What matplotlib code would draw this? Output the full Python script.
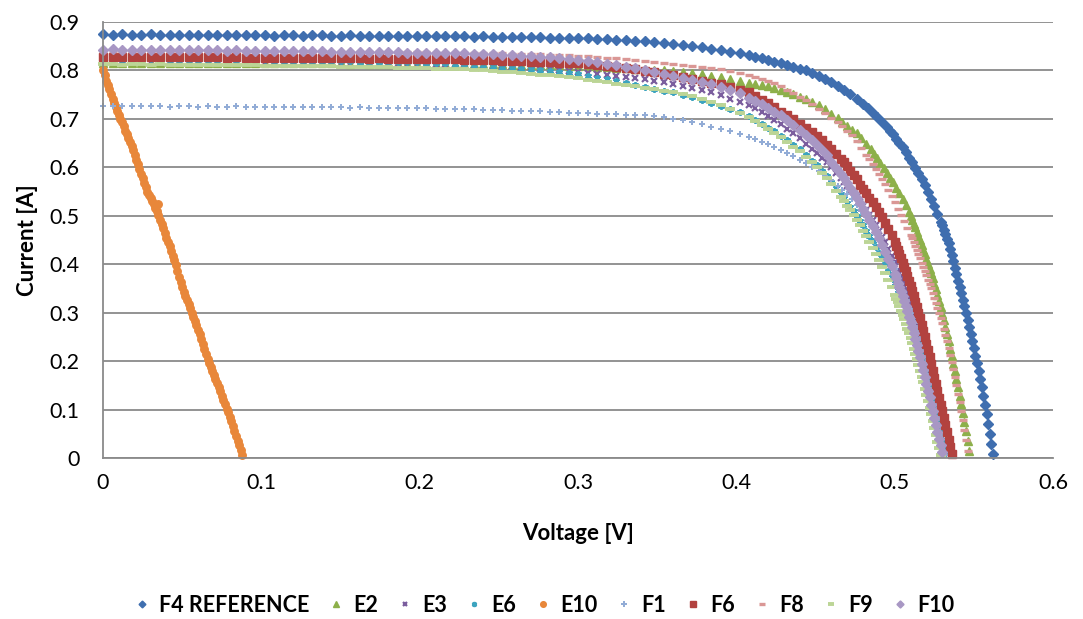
import matplotlib
matplotlib.use("Agg")
import matplotlib.pyplot as plt

plt.rcParams['font.family'] = ['Lato', 'DejaVu Sans']

# common voltage steps for the flat part of every I-V sweep (V)
V_GRID = [0.000, 0.006, 0.012, 0.018, 0.024, 0.030, 0.036, 0.042, 0.048, 0.054,
          0.060, 0.066, 0.072, 0.078, 0.084, 0.090, 0.096, 0.102, 0.108, 0.114,
          0.120, 0.126, 0.132, 0.138, 0.144, 0.150, 0.156, 0.162, 0.168, 0.174,
          0.180, 0.186, 0.192, 0.198, 0.204, 0.210, 0.216, 0.222, 0.228, 0.234,
          0.240, 0.246, 0.252, 0.258, 0.264, 0.270, 0.276, 0.282, 0.288, 0.294,
          0.300, 0.306, 0.312, 0.318, 0.324, 0.330, 0.336, 0.342, 0.348, 0.354,
          0.360, 0.366, 0.372, 0.378, 0.384, 0.390, 0.396, 0.402]

# currents (A) on V_GRID
F4_FLAT = [0.875, 0.874, 0.875, 0.874, 0.874, 0.875, 0.874, 0.874, 0.873, 0.874,
           0.874, 0.873, 0.874, 0.873, 0.873, 0.874, 0.873, 0.873, 0.872, 0.873,
           0.873, 0.872, 0.873, 0.873, 0.872, 0.872, 0.873, 0.872, 0.872, 0.872,
           0.872, 0.871, 0.872, 0.872, 0.871, 0.872, 0.871, 0.871, 0.871, 0.870,
           0.871, 0.870, 0.870, 0.870, 0.869, 0.869, 0.869, 0.868, 0.868, 0.867,
           0.867, 0.866, 0.865, 0.864, 0.863, 0.862, 0.861, 0.860, 0.858, 0.857,
           0.855, 0.853, 0.851, 0.848, 0.845, 0.842, 0.839, 0.835]
E2_FLAT = [0.816, 0.816, 0.815, 0.816, 0.816, 0.815, 0.816, 0.816, 0.815, 0.816,
           0.816, 0.815, 0.816, 0.815, 0.815, 0.816, 0.815, 0.815, 0.815, 0.815,
           0.815, 0.815, 0.815, 0.815, 0.815, 0.815, 0.814, 0.815, 0.814, 0.814,
           0.814, 0.814, 0.814, 0.814, 0.814, 0.814, 0.814, 0.813, 0.813, 0.813,
           0.813, 0.813, 0.813, 0.812, 0.812, 0.812, 0.811, 0.811, 0.811, 0.810,
           0.810, 0.809, 0.808, 0.807, 0.806, 0.805, 0.804, 0.803, 0.801, 0.800,
           0.798, 0.796, 0.794, 0.792, 0.789, 0.786, 0.782, 0.778]
E3_FLAT = [0.818, 0.818, 0.817, 0.818, 0.817, 0.817, 0.818, 0.817, 0.817, 0.816,
           0.817, 0.816, 0.816, 0.816, 0.816, 0.815, 0.816, 0.815, 0.815, 0.815,
           0.815, 0.814, 0.815, 0.814, 0.814, 0.814, 0.813, 0.814, 0.813, 0.813,
           0.813, 0.813, 0.812, 0.812, 0.812, 0.812, 0.811, 0.811, 0.811, 0.810,
           0.810, 0.809, 0.809, 0.808, 0.807, 0.805, 0.804, 0.803, 0.801, 0.799,
           0.797, 0.795, 0.793, 0.791, 0.789, 0.787, 0.785, 0.782, 0.779, 0.776,
           0.772, 0.768, 0.764, 0.760, 0.755, 0.749, 0.742, 0.735]
E6_FLAT = [0.823, 0.823, 0.822, 0.823, 0.822, 0.823, 0.822, 0.822, 0.822, 0.822,
           0.822, 0.822, 0.821, 0.822, 0.821, 0.821, 0.821, 0.821, 0.820, 0.820,
           0.820, 0.820, 0.820, 0.819, 0.819, 0.819, 0.819, 0.818, 0.818, 0.818,
           0.818, 0.818, 0.817, 0.817, 0.816, 0.816, 0.815, 0.814, 0.813, 0.812,
           0.811, 0.810, 0.808, 0.806, 0.804, 0.802, 0.800, 0.798, 0.796, 0.794,
           0.792, 0.789, 0.785, 0.782, 0.778, 0.774, 0.770, 0.766, 0.762, 0.758,
           0.755, 0.750, 0.745, 0.739, 0.733, 0.727, 0.720, 0.714]
F1_FLAT = [0.727, 0.726, 0.727, 0.726, 0.726, 0.727, 0.726, 0.725, 0.726, 0.726,
           0.725, 0.726, 0.725, 0.725, 0.726, 0.725, 0.725, 0.724, 0.725, 0.725,
           0.725, 0.724, 0.725, 0.724, 0.724, 0.724, 0.723, 0.724, 0.723, 0.723,
           0.723, 0.723, 0.722, 0.722, 0.722, 0.721, 0.721, 0.720, 0.720, 0.720,
           0.719, 0.719, 0.718, 0.717, 0.717, 0.716, 0.716, 0.715, 0.714, 0.713,
           0.713, 0.712, 0.711, 0.711, 0.710, 0.709, 0.708, 0.707, 0.705, 0.703,
           0.700, 0.697, 0.693, 0.689, 0.684, 0.680, 0.675, 0.669]
F6_FLAT = [0.828, 0.828, 0.827, 0.828, 0.828, 0.827, 0.828, 0.827, 0.827, 0.828,
           0.827, 0.827, 0.827, 0.826, 0.827, 0.826, 0.826, 0.826, 0.826, 0.826,
           0.826, 0.825, 0.826, 0.825, 0.825, 0.825, 0.825, 0.825, 0.824, 0.825,
           0.824, 0.824, 0.824, 0.824, 0.824, 0.823, 0.823, 0.823, 0.822, 0.822,
           0.821, 0.821, 0.820, 0.820, 0.819, 0.818, 0.818, 0.817, 0.816, 0.815,
           0.815, 0.813, 0.811, 0.809, 0.807, 0.805, 0.802, 0.799, 0.796, 0.793,
           0.790, 0.787, 0.783, 0.779, 0.775, 0.771, 0.766, 0.760]
F8_FLAT = [0.840, 0.841, 0.840, 0.840, 0.841, 0.840, 0.840, 0.840, 0.841, 0.840,
           0.840, 0.840, 0.840, 0.839, 0.840, 0.839, 0.840, 0.839, 0.839, 0.839,
           0.839, 0.839, 0.839, 0.839, 0.839, 0.838, 0.839, 0.838, 0.838, 0.838,
           0.838, 0.838, 0.838, 0.838, 0.838, 0.837, 0.837, 0.837, 0.836, 0.836,
           0.836, 0.835, 0.835, 0.834, 0.834, 0.833, 0.833, 0.832, 0.831, 0.831,
           0.830, 0.829, 0.828, 0.826, 0.825, 0.823, 0.821, 0.819, 0.818, 0.816,
           0.814, 0.812, 0.810, 0.808, 0.805, 0.802, 0.799, 0.795]
F9_FLAT = [0.813, 0.813, 0.812, 0.813, 0.813, 0.812, 0.813, 0.812, 0.812, 0.812,
           0.812, 0.812, 0.812, 0.811, 0.811, 0.811, 0.811, 0.810, 0.810, 0.810,
           0.810, 0.810, 0.809, 0.809, 0.809, 0.808, 0.808, 0.808, 0.807, 0.807,
           0.807, 0.806, 0.806, 0.806, 0.805, 0.804, 0.804, 0.803, 0.802, 0.801,
           0.800, 0.799, 0.797, 0.796, 0.794, 0.793, 0.791, 0.790, 0.788, 0.786,
           0.784, 0.781, 0.779, 0.776, 0.773, 0.770, 0.767, 0.764, 0.761, 0.758,
           0.755, 0.751, 0.747, 0.741, 0.735, 0.728, 0.721, 0.713]
F10_FLAT = [0.843, 0.844, 0.843, 0.843, 0.842, 0.843, 0.843, 0.842, 0.842, 0.843,
            0.842, 0.842, 0.842, 0.841, 0.842, 0.841, 0.841, 0.841, 0.841, 0.840,
            0.840, 0.840, 0.840, 0.840, 0.839, 0.839, 0.839, 0.839, 0.838, 0.838,
            0.838, 0.838, 0.837, 0.837, 0.837, 0.836, 0.836, 0.835, 0.835, 0.834,
            0.834, 0.833, 0.832, 0.831, 0.830, 0.829, 0.828, 0.827, 0.825, 0.824,
            0.822, 0.820, 0.817, 0.814, 0.811, 0.808, 0.805, 0.801, 0.797, 0.793,
            0.789, 0.785, 0.781, 0.777, 0.772, 0.766, 0.760, 0.753]

# knee and drop to open circuit, (V, A) pairs
F4_TAIL = [(0.408, 0.831), (0.412, 0.828), (0.416, 0.825), (0.420, 0.821), (0.424, 0.818),
           (0.428, 0.815), (0.432, 0.811), (0.436, 0.808), (0.440, 0.804), (0.444, 0.800),
           (0.448, 0.795), (0.452, 0.789), (0.456, 0.783), (0.460, 0.776), (0.464, 0.768),
           (0.468, 0.760), (0.472, 0.751), (0.476, 0.742), (0.480, 0.731), (0.483, 0.722),
           (0.486, 0.713), (0.489, 0.703), (0.492, 0.694), (0.495, 0.684), (0.497, 0.676),
           (0.499, 0.668), (0.501, 0.659), (0.503, 0.650), (0.505, 0.641), (0.507, 0.631),
           (0.509, 0.620), (0.511, 0.610), (0.513, 0.599), (0.515, 0.588), (0.517, 0.576),
           (0.519, 0.564), (0.521, 0.550), (0.523, 0.535), (0.525, 0.520), (0.527, 0.504),
           (0.529, 0.488), (0.530, 0.480), (0.531, 0.471), (0.532, 0.462), (0.533, 0.453),
           (0.534, 0.443), (0.535, 0.432), (0.536, 0.420), (0.537, 0.407), (0.538, 0.393),
           (0.539, 0.380), (0.540, 0.366), (0.541, 0.353), (0.542, 0.340), (0.543, 0.326),
           (0.544, 0.313), (0.545, 0.299), (0.546, 0.285), (0.547, 0.270), (0.548, 0.256),
           (0.549, 0.241), (0.550, 0.227), (0.551, 0.211), (0.552, 0.196), (0.553, 0.180),
           (0.554, 0.163), (0.555, 0.146), (0.556, 0.128), (0.557, 0.109), (0.558, 0.090),
           (0.559, 0.070), (0.560, 0.050), (0.561, 0.029), (0.562, 0.008)]
E2_TAIL = [(0.408, 0.775), (0.412, 0.773), (0.416, 0.770), (0.420, 0.767), (0.424, 0.764),
           (0.428, 0.760), (0.432, 0.756), (0.436, 0.751), (0.440, 0.746), (0.444, 0.741),
           (0.448, 0.735), (0.452, 0.728), (0.456, 0.720), (0.460, 0.711), (0.464, 0.701),
           (0.467, 0.694), (0.470, 0.686), (0.473, 0.678), (0.476, 0.670), (0.479, 0.660),
           (0.482, 0.649), (0.485, 0.637), (0.487, 0.628), (0.489, 0.619), (0.491, 0.609),
           (0.493, 0.599), (0.495, 0.589), (0.497, 0.579), (0.499, 0.569), (0.501, 0.558),
           (0.503, 0.547), (0.505, 0.535), (0.507, 0.522), (0.509, 0.508), (0.510, 0.500),
           (0.511, 0.492), (0.512, 0.484), (0.513, 0.476), (0.514, 0.467), (0.515, 0.458),
           (0.516, 0.449), (0.517, 0.440), (0.518, 0.430), (0.519, 0.421), (0.520, 0.411),
           (0.521, 0.401), (0.522, 0.391), (0.523, 0.381), (0.524, 0.371), (0.525, 0.360),
           (0.526, 0.349), (0.527, 0.337), (0.528, 0.325), (0.529, 0.312), (0.530, 0.298),
           (0.531, 0.284), (0.532, 0.270), (0.533, 0.255), (0.534, 0.241), (0.535, 0.226),
           (0.536, 0.211), (0.537, 0.195), (0.538, 0.179), (0.539, 0.163), (0.540, 0.146),
           (0.541, 0.129), (0.542, 0.111), (0.543, 0.093), (0.544, 0.074), (0.545, 0.055),
           (0.546, 0.035), (0.547, 0.014)]
E3_TAIL = [(0.408, 0.729), (0.412, 0.722), (0.416, 0.714), (0.420, 0.706), (0.424, 0.698),
           (0.428, 0.689), (0.432, 0.680), (0.436, 0.670), (0.440, 0.660), (0.444, 0.649),
           (0.448, 0.638), (0.451, 0.629), (0.454, 0.620), (0.457, 0.610), (0.460, 0.600),
           (0.463, 0.589), (0.466, 0.578), (0.468, 0.570), (0.470, 0.562), (0.472, 0.554),
           (0.474, 0.546), (0.476, 0.538), (0.478, 0.529), (0.480, 0.520), (0.482, 0.511),
           (0.484, 0.501), (0.486, 0.491), (0.488, 0.480), (0.490, 0.469), (0.492, 0.457),
           (0.494, 0.445), (0.496, 0.432), (0.498, 0.418), (0.500, 0.404), (0.502, 0.389),
           (0.503, 0.381), (0.504, 0.373), (0.505, 0.365), (0.506, 0.356), (0.507, 0.347),
           (0.508, 0.338), (0.509, 0.328), (0.510, 0.318), (0.511, 0.308), (0.512, 0.298),
           (0.513, 0.287), (0.514, 0.276), (0.515, 0.265), (0.516, 0.253), (0.517, 0.241),
           (0.518, 0.229), (0.519, 0.216), (0.520, 0.203), (0.521, 0.190), (0.522, 0.177),
           (0.523, 0.163), (0.524, 0.150), (0.525, 0.136), (0.526, 0.122), (0.527, 0.108),
           (0.528, 0.094), (0.529, 0.080), (0.530, 0.066), (0.531, 0.052), (0.532, 0.038),
           (0.533, 0.024), (0.534, 0.010)]
E6_TAIL = [(0.408, 0.705), (0.412, 0.698), (0.416, 0.690), (0.420, 0.682), (0.424, 0.674),
           (0.428, 0.665), (0.432, 0.656), (0.436, 0.647), (0.440, 0.637), (0.444, 0.626),
           (0.448, 0.614), (0.451, 0.604), (0.454, 0.593), (0.457, 0.582), (0.460, 0.570),
           (0.463, 0.558), (0.466, 0.545), (0.468, 0.536), (0.470, 0.527), (0.472, 0.518),
           (0.474, 0.509), (0.476, 0.500), (0.478, 0.490), (0.480, 0.480), (0.482, 0.469),
           (0.484, 0.458), (0.486, 0.447), (0.488, 0.436), (0.490, 0.424), (0.492, 0.412),
           (0.494, 0.400), (0.496, 0.387), (0.498, 0.374), (0.500, 0.361), (0.502, 0.347),
           (0.503, 0.340), (0.504, 0.333), (0.505, 0.325), (0.506, 0.317), (0.507, 0.309),
           (0.508, 0.300), (0.509, 0.291), (0.510, 0.282), (0.511, 0.272), (0.512, 0.262),
           (0.513, 0.252), (0.514, 0.241), (0.515, 0.230), (0.516, 0.219), (0.517, 0.208),
           (0.518, 0.196), (0.519, 0.184), (0.520, 0.172), (0.521, 0.160), (0.522, 0.147),
           (0.523, 0.134), (0.524, 0.121), (0.525, 0.108), (0.526, 0.094), (0.527, 0.080),
           (0.528, 0.066), (0.529, 0.052), (0.530, 0.038), (0.531, 0.024), (0.532, 0.010)]
F1_TAIL = [(0.408, 0.663), (0.412, 0.658), (0.416, 0.653), (0.420, 0.648), (0.424, 0.642),
           (0.428, 0.636), (0.432, 0.630), (0.436, 0.623), (0.440, 0.616), (0.444, 0.609),
           (0.448, 0.601), (0.452, 0.592), (0.456, 0.583), (0.460, 0.573), (0.464, 0.562),
           (0.467, 0.553), (0.470, 0.544), (0.473, 0.534), (0.476, 0.522), (0.479, 0.510),
           (0.482, 0.497), (0.484, 0.488), (0.486, 0.478), (0.488, 0.467), (0.490, 0.456),
           (0.492, 0.444), (0.494, 0.431), (0.496, 0.418), (0.498, 0.404), (0.500, 0.390),
           (0.502, 0.375), (0.504, 0.359), (0.506, 0.343), (0.508, 0.326), (0.510, 0.308),
           (0.511, 0.299), (0.512, 0.289), (0.513, 0.279), (0.514, 0.269), (0.515, 0.258),
           (0.516, 0.247), (0.517, 0.236), (0.518, 0.224), (0.519, 0.212), (0.520, 0.199),
           (0.521, 0.186), (0.522, 0.173), (0.523, 0.159), (0.524, 0.145), (0.525, 0.130),
           (0.526, 0.115), (0.527, 0.099), (0.528, 0.082), (0.529, 0.064), (0.530, 0.045),
           (0.531, 0.025), (0.532, 0.006)]
F6_TAIL = [(0.408, 0.755), (0.412, 0.748), (0.416, 0.740), (0.420, 0.732), (0.424, 0.724),
           (0.428, 0.715), (0.432, 0.707), (0.436, 0.699), (0.440, 0.690), (0.444, 0.681),
           (0.448, 0.672), (0.451, 0.665), (0.454, 0.656), (0.457, 0.647), (0.460, 0.638),
           (0.463, 0.628), (0.466, 0.617), (0.468, 0.610), (0.470, 0.602), (0.472, 0.593),
           (0.474, 0.584), (0.476, 0.575), (0.478, 0.564), (0.480, 0.555), (0.482, 0.546),
           (0.484, 0.537), (0.486, 0.528), (0.488, 0.518), (0.490, 0.508), (0.492, 0.497),
           (0.494, 0.485), (0.496, 0.473), (0.498, 0.460), (0.500, 0.446), (0.501, 0.438),
           (0.502, 0.430), (0.503, 0.421), (0.504, 0.412), (0.505, 0.403), (0.506, 0.394),
           (0.507, 0.385), (0.508, 0.375), (0.509, 0.365), (0.510, 0.355), (0.511, 0.345),
           (0.512, 0.334), (0.513, 0.323), (0.514, 0.312), (0.515, 0.300), (0.516, 0.288),
           (0.517, 0.275), (0.518, 0.262), (0.519, 0.249), (0.520, 0.236), (0.521, 0.222),
           (0.522, 0.208), (0.523, 0.194), (0.524, 0.180), (0.525, 0.166), (0.526, 0.152),
           (0.527, 0.138), (0.528, 0.124), (0.529, 0.110), (0.530, 0.096), (0.531, 0.082),
           (0.532, 0.068), (0.533, 0.053), (0.534, 0.038), (0.535, 0.023), (0.536, 0.008)]
F8_TAIL = [(0.408, 0.790), (0.412, 0.787), (0.416, 0.783), (0.420, 0.779), (0.424, 0.774),
           (0.428, 0.767), (0.432, 0.760), (0.436, 0.753), (0.440, 0.746), (0.444, 0.738),
           (0.448, 0.731), (0.452, 0.721), (0.456, 0.712), (0.460, 0.702), (0.464, 0.693),
           (0.467, 0.685), (0.470, 0.676), (0.473, 0.666), (0.476, 0.654), (0.479, 0.640),
           (0.482, 0.626), (0.484, 0.617), (0.486, 0.607), (0.488, 0.597), (0.490, 0.587),
           (0.492, 0.576), (0.494, 0.565), (0.496, 0.553), (0.498, 0.541), (0.500, 0.528),
           (0.502, 0.514), (0.504, 0.502), (0.506, 0.489), (0.508, 0.475), (0.510, 0.461),
           (0.511, 0.454), (0.512, 0.446), (0.513, 0.438), (0.514, 0.429), (0.515, 0.421),
           (0.516, 0.412), (0.517, 0.403), (0.518, 0.395), (0.519, 0.386), (0.520, 0.377),
           (0.521, 0.368), (0.522, 0.359), (0.523, 0.350), (0.524, 0.340), (0.525, 0.330),
           (0.526, 0.320), (0.527, 0.310), (0.528, 0.300), (0.529, 0.289), (0.530, 0.278),
           (0.531, 0.266), (0.532, 0.254), (0.533, 0.241), (0.534, 0.227), (0.535, 0.213),
           (0.536, 0.198), (0.537, 0.183), (0.538, 0.167), (0.539, 0.150), (0.540, 0.133),
           (0.541, 0.115), (0.542, 0.097), (0.543, 0.078), (0.544, 0.058), (0.545, 0.037),
           (0.546, 0.015)]
F9_TAIL = [(0.408, 0.704), (0.412, 0.696), (0.416, 0.688), (0.420, 0.680), (0.424, 0.671),
           (0.428, 0.662), (0.432, 0.653), (0.436, 0.643), (0.440, 0.633), (0.444, 0.622),
           (0.448, 0.610), (0.451, 0.600), (0.454, 0.589), (0.457, 0.577), (0.460, 0.565),
           (0.463, 0.552), (0.466, 0.539), (0.468, 0.530), (0.470, 0.521), (0.472, 0.511),
           (0.474, 0.501), (0.476, 0.491), (0.478, 0.480), (0.480, 0.469), (0.482, 0.458),
           (0.484, 0.446), (0.486, 0.434), (0.488, 0.421), (0.490, 0.408), (0.492, 0.395),
           (0.494, 0.381), (0.496, 0.367), (0.498, 0.352), (0.500, 0.337), (0.501, 0.329),
           (0.502, 0.321), (0.503, 0.313), (0.504, 0.304), (0.505, 0.295), (0.506, 0.286),
           (0.507, 0.277), (0.508, 0.267), (0.509, 0.257), (0.510, 0.247), (0.511, 0.237),
           (0.512, 0.226), (0.513, 0.215), (0.514, 0.204), (0.515, 0.192), (0.516, 0.180),
           (0.517, 0.168), (0.518, 0.156), (0.519, 0.143), (0.520, 0.130), (0.521, 0.117),
           (0.522, 0.104), (0.523, 0.090), (0.524, 0.076), (0.525, 0.062), (0.526, 0.048),
           (0.527, 0.034), (0.528, 0.020), (0.529, 0.006)]
F10_TAIL = [(0.408, 0.744), (0.412, 0.737), (0.416, 0.730), (0.420, 0.723), (0.424, 0.715),
            (0.428, 0.707), (0.432, 0.698), (0.436, 0.688), (0.440, 0.678), (0.444, 0.667),
            (0.448, 0.656), (0.451, 0.647), (0.454, 0.636), (0.457, 0.625), (0.460, 0.612),
            (0.463, 0.599), (0.466, 0.586), (0.468, 0.577), (0.470, 0.567), (0.472, 0.558),
            (0.474, 0.548), (0.476, 0.537), (0.478, 0.527), (0.480, 0.515), (0.482, 0.503),
            (0.484, 0.491), (0.486, 0.479), (0.488, 0.467), (0.490, 0.454), (0.492, 0.440),
            (0.494, 0.426), (0.496, 0.411), (0.498, 0.396), (0.500, 0.380), (0.501, 0.371),
            (0.502, 0.362), (0.503, 0.353), (0.504, 0.344), (0.505, 0.334), (0.506, 0.324),
            (0.507, 0.314), (0.508, 0.303), (0.509, 0.292), (0.510, 0.281), (0.511, 0.270),
            (0.512, 0.258), (0.513, 0.246), (0.514, 0.234), (0.515, 0.221), (0.516, 0.208),
            (0.517, 0.195), (0.518, 0.181), (0.519, 0.167), (0.520, 0.153), (0.521, 0.139),
            (0.522, 0.125), (0.523, 0.110), (0.524, 0.096), (0.525, 0.082), (0.526, 0.068),
            (0.527, 0.054), (0.528, 0.040), (0.529, 0.026), (0.530, 0.012)]

# E10 is the shunted cell, whole sweep listed directly
E10_V = [0.000, 0.001, 0.002, 0.003, 0.004, 0.005, 0.006, 0.007, 0.008, 0.009,
         0.010, 0.011, 0.012, 0.013, 0.014, 0.015, 0.016, 0.017, 0.018, 0.019,
         0.020, 0.021, 0.022, 0.023, 0.024, 0.025, 0.026, 0.027, 0.028, 0.029,
         0.030, 0.031, 0.032, 0.033, 0.034, 0.035, 0.036, 0.037, 0.038, 0.039,
         0.040, 0.041, 0.042, 0.043, 0.044, 0.045, 0.046, 0.047, 0.048, 0.049,
         0.050, 0.051, 0.052, 0.053, 0.054, 0.055, 0.056, 0.057, 0.058, 0.059,
         0.060, 0.061, 0.062, 0.063, 0.064, 0.065, 0.066, 0.067, 0.068, 0.069,
         0.070, 0.071, 0.072, 0.073, 0.074, 0.075, 0.076, 0.077, 0.078, 0.079,
         0.080, 0.081, 0.082, 0.083, 0.084, 0.085, 0.086, 0.087, 0.088, 0.035]
E10_I = [0.800, 0.790, 0.779, 0.770, 0.761, 0.751, 0.742, 0.733, 0.724, 0.716,
         0.708, 0.700, 0.693, 0.685, 0.676, 0.668, 0.660, 0.652, 0.644, 0.635,
         0.626, 0.616, 0.606, 0.597, 0.587, 0.577, 0.568, 0.559, 0.550, 0.543,
         0.537, 0.531, 0.524, 0.517, 0.510, 0.501, 0.492, 0.483, 0.474, 0.465,
         0.455, 0.446, 0.438, 0.428, 0.418, 0.408, 0.398, 0.386, 0.374, 0.363,
         0.352, 0.343, 0.334, 0.326, 0.318, 0.309, 0.300, 0.292, 0.283, 0.274,
         0.265, 0.255, 0.245, 0.235, 0.224, 0.214, 0.205, 0.196, 0.188, 0.180,
         0.172, 0.163, 0.155, 0.146, 0.138, 0.129, 0.120, 0.111, 0.102, 0.094,
         0.085, 0.076, 0.066, 0.056, 0.046, 0.036, 0.026, 0.016, 0.006, 0.524]


def sweep(flat, tail):
    v = list(V_GRID[:len(flat)]) + [p[0] for p in tail]
    i = list(flat) + [p[1] for p in tail]
    return v, i


series = [
    ('F4 REFERENCE', sweep(F4_FLAT, F4_TAIL), dict(marker='D', ms=4.6, color='#3F6EAF')),
    ('E2', sweep(E2_FLAT, E2_TAIL), dict(marker='^', ms=5.5, color='#8DB04A')),
    ('E3', sweep(E3_FLAT, E3_TAIL), dict(marker='x', ms=4.5, mew=1.6, color='#7B5E9E')),
    ('E6', sweep(E6_FLAT, E6_TAIL), dict(marker=(6, 2, 0), ms=5, mew=1.3, color='#3DA4BF')),
    ('E10', (E10_V, E10_I), dict(marker='o', ms=5.4, color='#E8873A')),
    ('F1', sweep(F1_FLAT, F1_TAIL), dict(marker='P', ms=5, mew=0, color='#92ACD6')),
    ('F6', sweep(F6_FLAT, F6_TAIL), dict(marker='s', ms=5.2, color='#B2423F')),
    ('F8', sweep(F8_FLAT, F8_TAIL), dict(marker='_', ms=5.5, mew=2.4, color='#DA9795')),
    ('F9', sweep(F9_FLAT, F9_TAIL), dict(marker='_', ms=6.5, mew=2.8, color='#BCD596')),
    ('F10', sweep(F10_FLAT, F10_TAIL), dict(marker='D', ms=4.8, color='#A897C4')),
]

fig = plt.figure(figsize=(10.83, 6.19), dpi=100)
ax = fig.add_axes([103 / 1083, 1 - 458 / 619, 950 / 1083, 436 / 619])

for name, (v, i), style in series:
    ax.plot(v, i, linestyle='none', label=name, clip_on=False,
            markeredgecolor=style['color'], **style)

ax.set_xlim(0, 0.6)
ax.set_ylim(0, 0.9)
ax.set_xticks([0, 0.1, 0.2, 0.3, 0.4, 0.5, 0.6])
ax.set_xticklabels(['0', '0.1', '0.2', '0.3', '0.4', '0.5', '0.6'])
ax.set_yticks([0, 0.1, 0.2, 0.3, 0.4, 0.5, 0.6, 0.7, 0.8, 0.9])
ax.set_yticklabels(['0', '0.1', '0.2', '0.3', '0.4', '0.5', '0.6', '0.7', '0.8', '0.9'])
ax.tick_params(axis='both', length=0, labelsize=15.5, colors='black')
ax.tick_params(axis='y', pad=17)
ax.tick_params(axis='x', pad=11)

ax.yaxis.grid(True, color='#8a8a8a', lw=1.3)
ax.set_axisbelow(True)
for side in ['top', 'right']:
    ax.spines[side].set_visible(False)
ax.spines['left'].set_color('#8a8a8a')
ax.spines['left'].set_linewidth(1.3)
ax.spines['bottom'].set_color('#8a8a8a')
ax.spines['bottom'].set_linewidth(1.3)

ax.set_xlabel('Voltage [V]', fontsize=16, fontweight='bold')
ax.set_ylabel('Current [A]', fontsize=16, fontweight='bold')
ax.xaxis.set_label_coords(0.5, -0.148)
ax.yaxis.set_label_coords(-0.068, 0.5)

fig.legend(loc='center', bbox_to_anchor=(0.502, 1 - 605 / 619), ncol=10, frameon=False,
           prop={'weight': 'bold', 'size': 15.5}, markerscale=0.75,
           handlelength=0.8, handletextpad=0.4, columnspacing=0.85)

fig.savefig('out.png', dpi=100, facecolor='white')
